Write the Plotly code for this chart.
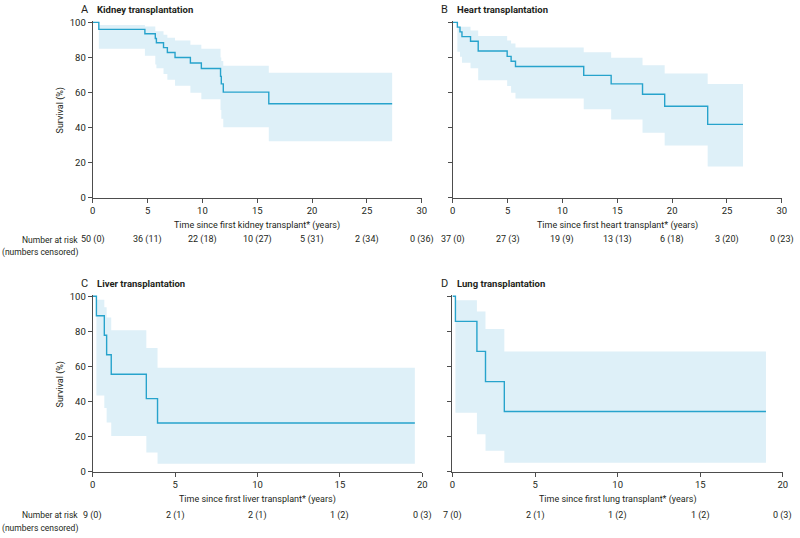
import plotly.graph_objects as go

W, H = 800, 538

# ---------------- data ----------------
kidney_time = [0, 0.55, 4.75, 5.7, 5.8, 6.45, 6.8, 7.5, 8.9, 9.9, 11.65, 11.72, 11.9, 16.05]
kidney_surv = [100, 96.0, 93.5, 90.8, 88.4, 85.6, 82.8, 80.0, 76.8, 73.7, 69.2, 64.9, 60.2, 53.6]
kidney_upper = [100, 98.5, 97.6, 95.0, 95.0, 93.0, 91.2, 89.7, 87.3, 85.0, 80.0, 78.0, 75.3, 71.2]
kidney_lower = [100, 85.0, 80.9, 76.0, 73.8, 70.5, 67.3, 63.9, 59.8, 56.1, 50.0, 45.0, 40.2, 32.2]
kidney_end = 27.3

heart_time = [0, 0.42, 0.66, 0.84, 1.62, 2.32, 4.96, 5.32, 5.72, 11.94, 14.44, 17.3, 19.32, 23.24]
heart_surv = [100, 97.3, 94.6, 91.9, 89.2, 83.7, 80.6, 77.8, 74.8, 69.8, 64.9, 59.0, 52.2, 41.8]
heart_upper = [100, 97.5, 97.5, 97.5, 95.3, 92.3, 89.7, 87.9, 85.7, 83.0, 79.8, 75.5, 70.8, 64.8]
heart_lower = [100, 83.2, 80.4, 77.0, 73.8, 67.0, 63.7, 59.8, 56.6, 50.4, 44.6, 37.1, 29.8, 17.8]
heart_end = 26.46

liver_time = [0, 0.22, 0.7, 0.84, 1.12, 3.25, 3.93]
liver_surv = [100, 88.9, 77.8, 66.7, 55.6, 41.7, 27.8]
liver_upper = [100, 98.1, 93.8, 87.9, 80.6, 70.5, 59.3]
liver_lower = [100, 43.4, 36.4, 28.0, 20.4, 11.0, 4.5]
liver_end = 19.55

lung_time = [0, 0.18, 1.48, 2.0, 3.14]
lung_surv = [100, 85.7, 68.6, 51.4, 34.3]
lung_upper = [100, 97.7, 91.4, 81.4, 68.6]
lung_lower = [100, 33.6, 21.4, 12.0, 5.1]
lung_end = 18.98

top_ticks = [0, 5, 10, 15, 20, 25, 30]
bottom_ticks = [0, 5, 10, 15, 20]
y_ticks = [0, 20, 40, 60, 80, 100]

kidney_risk = ["50 (0)", "36 (11)", "22 (18)", "10 (27)", "5 (31)", "2 (34)", "0 (36)"]
heart_risk = ["37 (0)", "27 (3)", "19 (9)", "13 (13)", "6 (18)", "3 (20)", "0 (23)"]
liver_risk = ["9 (0)", "2 (1)", "2 (1)", "1 (2)", "0 (3)"]
lung_risk = ["7 (0)", "2 (1)", "1 (2)", "1 (2)", "0 (3)"]

titles = ["Kidney transplantation", "Heart transplantation",
          "Liver transplantation", "Lung transplantation"]
letters = ["A", "B", "C", "D"]
xtitles = ["Time since first kidney transplant* (years)",
           "Time since first heart transplant* (years)",
           "Time since first liver transplant* (years)",
           "Time since first lung transplant* (years)"]

# ---------------- style ----------------
FONT = "Roboto, Liberation Sans, sans-serif"
TXT = "#231f20"
AX = "#4d4d4d"
LINE = "#27a3cc"
BAND = "#def0f8"
FS_TICK = 9.5
FS_TXT = 9
FS_RISK = 9


def px_x(p):
    return p / W


def px_y(p):
    return 1 - p / H


panels = [
    dict(t=kidney_time, s=kidney_surv, u=kidney_upper, l=kidney_lower, end=kidney_end,
         xr=30, ticks=top_ticks, risk=kidney_risk, x0=90.7, x1=423.0, ytop=18.7, ybot=197.0,
         ylab=True, xt_y=225, risk_y=240, cens_y=253, title_y=6),
    dict(t=heart_time, s=heart_surv, u=heart_upper, l=heart_lower, end=heart_end,
         xr=30, ticks=top_ticks, risk=heart_risk, x0=454.3, x1=786.7, ytop=18.7, ybot=197.0,
         ylab=False, xt_y=225, risk_y=240, cens_y=253, title_y=6),
    dict(t=liver_time, s=liver_surv, u=liver_upper, l=liver_lower, end=liver_end,
         xr=20, ticks=bottom_ticks, risk=liver_risk, x0=90.7, x1=423.5, ytop=297.3, ybot=475.7,
         ylab=True, xt_y=504, risk_y=520, cens_y=533, title_y=284),
    dict(t=lung_time, s=lung_surv, u=lung_upper, l=lung_lower, end=lung_end,
         xr=20, ticks=bottom_ticks, risk=lung_risk, x0=454.0, x1=787.7, ytop=297.3, ybot=475.7,
         ylab=False, xt_y=504, risk_y=520, cens_y=533, title_y=284),
]

fig = go.Figure()
annotations = []
layout_axes = {}

YMAX = 101.0
for i, p in enumerate(panels):
    n = i + 1
    xa = "x" if n == 1 else f"x{n}"
    ya = "y" if n == 1 else f"y{n}"
    xkey = "xaxis" if n == 1 else f"xaxis{n}"
    ykey = "yaxis" if n == 1 else f"yaxis{n}"

    # confidence band (starts at first event)
    bx = p["t"][1:] + [p["end"]]
    bu = p["u"][1:] + [p["u"][-1]]
    bl = p["l"][1:] + [p["l"][-1]]
    fig.add_trace(go.Scatter(x=bx, y=bu, mode="lines", line=dict(width=0, shape="hv", color=BAND),
                             xaxis=xa, yaxis=ya, showlegend=False, hoverinfo="skip"))
    fig.add_trace(go.Scatter(x=bx, y=bl, mode="lines", line=dict(width=0, shape="hv", color=BAND),
                             fill="tonexty", fillcolor=BAND,
                             xaxis=xa, yaxis=ya, showlegend=False, hoverinfo="skip"))
    # Kaplan-Meier curve
    fig.add_trace(go.Scatter(x=p["t"] + [p["end"]], y=p["s"] + [p["s"][-1]], mode="lines",
                             line=dict(width=1.4, shape="hv", color=LINE),
                             xaxis=xa, yaxis=ya, showlegend=False))

    ytop_px = p["ytop"] - (p["ybot"] - p["ytop"]) * (YMAX - 100) / 100
    layout_axes[xkey] = dict(
        domain=[px_x(p["x0"]), px_x(p["x1"])], range=[0, p["xr"]], anchor=ya,
        tickvals=p["ticks"], ticks="outside", ticklen=4, tickwidth=1, tickcolor=AX,
        showline=True, linecolor=AX, linewidth=1.3, showgrid=False, zeroline=False,
        tickfont=dict(family=FONT, size=FS_TICK, color=TXT), fixedrange=True,
    )
    layout_axes[ykey] = dict(
        domain=[px_y(p["ybot"]), px_y(ytop_px)], range=[0, YMAX], anchor=xa,
        tickvals=y_ticks, ticks="outside", ticklen=4, tickwidth=1, tickcolor=AX,
        showline=True, linecolor=AX, linewidth=1.3, showgrid=False, zeroline=False,
        showticklabels=p["ylab"],
        tickfont=dict(family=FONT, size=FS_TICK, color=TXT), fixedrange=True,
    )

    # panel letter and title
    annotations.append(dict(text=letters[i], x=px_x(p["x0"] - 14), y=px_y(p["title_y"]),
                            xref="paper", yref="paper", xanchor="left", yanchor="middle",
                            showarrow=False, font=dict(family=FONT, size=11, color=TXT)))
    annotations.append(dict(text="<b>" + titles[i] + "</b>", x=px_x(p["x0"] + 2.5), y=px_y(p["title_y"]),
                            xref="paper", yref="paper", xanchor="left", yanchor="middle",
                            showarrow=False, font=dict(family=FONT, size=9.5, color=TXT)))
    # x-axis title
    annotations.append(dict(text=xtitles[i], x=(p["x0"] + p["x1"]) / 2 / W, y=px_y(p["xt_y"]),
                            xref="paper", yref="paper", xanchor="center", yanchor="middle",
                            showarrow=False, font=dict(family=FONT, size=FS_TXT, color=TXT)))
    if p["ylab"]:
        annotations.append(dict(text="Survival (%)", x=px_x(58), y=px_y((p["ytop"] + p["ybot"]) / 2),
                                xref="paper", yref="paper", xanchor="center", yanchor="middle",
                                textangle=-90, showarrow=False,
                                font=dict(family=FONT, size=FS_TXT, color=TXT)))
        annotations.append(dict(text="Number at risk", x=px_x(78), y=px_y(p["risk_y"]),
                                xref="paper", yref="paper", xanchor="right", yanchor="middle",
                                showarrow=False, font=dict(family=FONT, size=8.5, color=TXT)))
        annotations.append(dict(text="(numbers censored)", x=px_x(78), y=px_y(p["cens_y"]),
                                xref="paper", yref="paper", xanchor="right", yanchor="middle",
                                showarrow=False, font=dict(family=FONT, size=8.5, color=TXT)))
    # number-at-risk table
    for tv, lab in zip(p["ticks"], p["risk"]):
        annotations.append(dict(text=lab, x=tv, y=px_y(p["risk_y"]), xref=xa, yref="paper",
                                xanchor="center", yanchor="middle", showarrow=False,
                                font=dict(family=FONT, size=FS_RISK, color=TXT)))

fig.update_layout(
    width=W, height=H, margin=dict(l=0, r=0, t=0, b=0),
    paper_bgcolor="white", plot_bgcolor="white",
    annotations=annotations, **layout_axes,
)

fig.write_html("out.html", config={"displayModeBar": False},
               post_script="document.body.style.margin='0px';document.body.style.overflow='hidden';")
